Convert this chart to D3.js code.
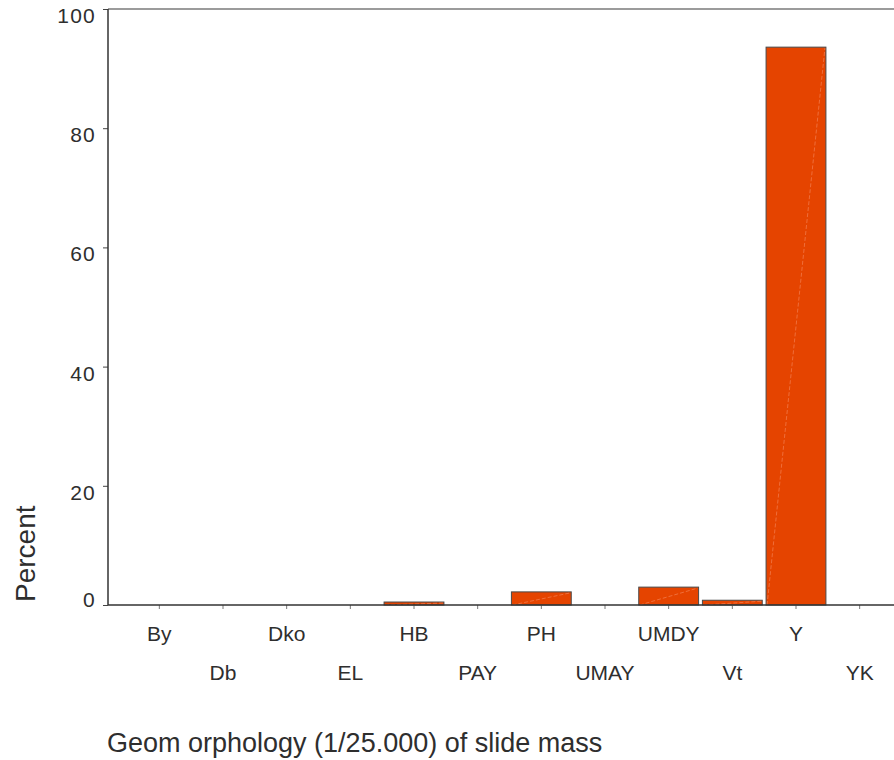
<!DOCTYPE html>
<html>
<head>
<meta charset="utf-8">
<script src="https://cdn.jsdelivr.net/npm/d3@7"></script>
<style>
   body { margin: 0; background: #fff; }
   svg { display: block; font-family: "Liberation Sans", Arial, sans-serif; }
</style>
</head>
<body>
<svg id="chart" width="894" height="760"></svg>
<script>
/*global d3*/
// chart values
var categories = ["By", "Db", "Dko", "EL", "HB", "PAY", "PH", "UMAY", "UMDY", "Vt", "Y", "YK"],
   percents = [0, 0, 0, 0, 0.5, 0, 2.2, 0, 3.0, 0.8, 93.6, 0],
   yTicks = [0, 20, 40, 60, 80, 100],
   yLabel = "Percent",
   xLabel = "Geom orphology (1/25.000) of slide mass";

(function () {
   "use strict";
   var svg = d3.select("#chart"),
      left = 108,
      right = 894,
      top = 9,
      bottom = 605,
      textColor = "#2e2e2e",
      x = d3.scaleBand()
         .domain(categories)
         .range([127.5, 891.5])
         .paddingInner(0.06)
         .paddingOuter(0.03),
      y = d3.scaleLinear().domain([0, 100]).range([bottom, top]),
      bars,
      xAxisG,
      yAxisG;

   //frame: top border in grey
   svg.append("line")
      .attr("x1", left).attr("x2", right)
      .attr("y1", y(100)).attr("y2", y(100))
      .attr("stroke", "#7a7a7a")
      .attr("stroke-width", 1.5);

   //bars
   bars = svg.append("g").selectAll("g")
      .data(categories.map(function (c, i) {
         return { cat: c, val: percents[i] };
      }).filter(function (d) { return d.val > 0; }))
      .enter().append("g");

   bars.append("rect")
      .attr("x", function (d) { return x(d.cat); })
      .attr("y", function (d) { return y(d.val); })
      .attr("width", x.bandwidth())
      .attr("height", function (d) { return y(0) - y(d.val); })
      .attr("fill", "#e54400")
      .attr("stroke", "#4a4a4a")
      .attr("stroke-width", 1);

   //faint seam across each bar, like the original renderer
   bars.append("line")
      .attr("x1", function (d) { return x(d.cat) + 1; })
      .attr("y1", y(0))
      .attr("x2", function (d) { return x(d.cat) + x.bandwidth() - 1; })
      .attr("y2", function (d) { return y(d.val) + 1; })
      .attr("stroke", "#f5875c")
      .attr("stroke-width", 0.8)
      .attr("stroke-dasharray", "4,2")
      .attr("opacity", 0.8);

   //y axis
   yAxisG = svg.append("g")
      .attr("transform", "translate(" + left + ",0)")
      .call(d3.axisLeft(y).tickValues(yTicks).tickSize(5).tickPadding(7));
   yAxisG.select(".domain").remove();
   yAxisG.selectAll(".tick line").attr("stroke", "#444");
   yAxisG.selectAll(".tick text")
      .attr("fill", textColor)
      .style("font-size", "21px")
      .style("letter-spacing", "1.2px")
      .attr("dy", function (d) { return d === 0 ? 1.7 : 13.5; });
   svg.append("line")
      .attr("x1", left).attr("x2", left)
      .attr("y1", top).attr("y2", bottom)
      .attr("stroke", "#333")
      .attr("stroke-width", 1.5);

   //x axis
   xAxisG = svg.append("g")
      .attr("transform", "translate(0," + bottom + ")")
      .call(d3.axisBottom(x).tickSize(4));
   xAxisG.select(".domain").remove();
   xAxisG.selectAll(".tick line").attr("stroke", "#777");
   xAxisG.selectAll(".tick text")
      .attr("fill", textColor)
      .style("font-size", "21px")
      .attr("dy", 0)
      .attr("y", function (d, i) { return i % 2 ? 74.5 : 36; });
   svg.append("line")
      .attr("x1", left).attr("x2", right)
      .attr("y1", bottom).attr("y2", bottom)
      .attr("stroke", "#333")
      .attr("stroke-width", 1.5);

   //axis titles
   svg.append("text")
      .attr("transform", "translate(35,602) rotate(-90)")
      .attr("fill", textColor)
      .style("font-size", "28px")
      .text(yLabel);

   svg.append("text")
      .attr("x", 107)
      .attr("y", 751.5)
      .attr("fill", textColor)
      .style("font-size", "27px")
      .text(xLabel);
}());
</script>
</body>
</html>
